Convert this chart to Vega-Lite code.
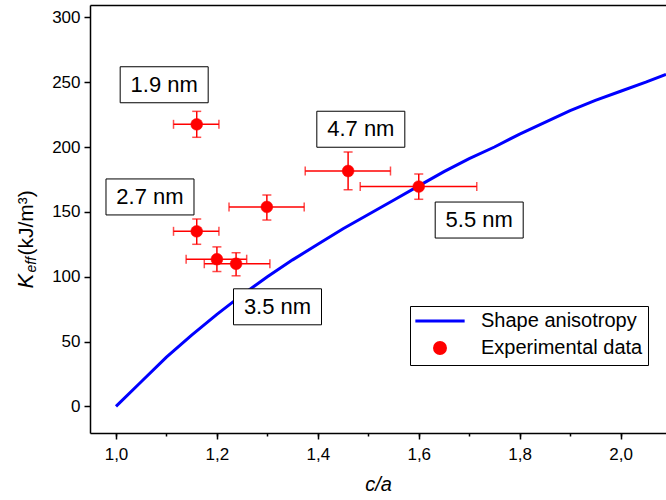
{
  "$schema": "https://vega.github.io/schema/vega-lite/v6.json",
  "width": 576,
  "height": 428,
  "autosize": {"type": "none"},
  "padding": {"left": 90, "top": 5, "right": 0, "bottom": 67},
  "background": "white",
  "config": {
    "view": {"stroke": null},
    "font": "Liberation Sans",
    "axis": {
      "grid": false,
      "domainColor": "black",
      "domainWidth": 1.5,
      "tickColor": "black",
      "tickWidth": 1.5,
      "labelColor": "black",
      "labelFont": "Liberation Sans",
      "labelFontSize": 17,
      "titleColor": "black",
      "titleFont": "Liberation Sans",
      "titleFontWeight": "normal",
      "labelOverlap": false,
      "labelFlush": false
    }
  },
  "datasets": {
    "curve": [
      {"c": 1.0, "K": 0},
      {"c": 1.05, "K": 19},
      {"c": 1.1, "K": 38},
      {"c": 1.15, "K": 55},
      {"c": 1.2, "K": 71},
      {"c": 1.25, "K": 86},
      {"c": 1.3, "K": 100},
      {"c": 1.35, "K": 113},
      {"c": 1.4, "K": 125},
      {"c": 1.45, "K": 137},
      {"c": 1.5, "K": 148},
      {"c": 1.55, "K": 159},
      {"c": 1.6, "K": 170},
      {"c": 1.65, "K": 181},
      {"c": 1.7, "K": 191},
      {"c": 1.75, "K": 200},
      {"c": 1.8, "K": 210},
      {"c": 1.85, "K": 219},
      {"c": 1.9, "K": 228},
      {"c": 1.95, "K": 236},
      {"c": 2.0, "K": 243},
      {"c": 2.05, "K": 250},
      {"c": 2.09, "K": 256}
    ],
    "points": [
      {"series": "Experimental data", "c": 1.16, "K": 217.5, "clo": 1.114, "chi": 1.204, "Klo": 207.5, "Khi": 227.5},
      {"series": "Experimental data", "c": 1.16, "K": 135, "clo": 1.114, "chi": 1.204, "Klo": 125, "Khi": 144.5},
      {"series": "Experimental data", "c": 1.2, "K": 113.5, "clo": 1.139, "chi": 1.259, "Klo": 104, "Khi": 123},
      {"series": "Experimental data", "c": 1.238, "K": 110, "clo": 1.175, "chi": 1.305, "Klo": 100.7, "Khi": 118.5},
      {"series": "Experimental data", "c": 1.299, "K": 153.8, "clo": 1.224, "chi": 1.373, "Klo": 143.7, "Khi": 163},
      {"series": "Experimental data", "c": 1.46, "K": 181.5, "clo": 1.375, "chi": 1.544, "Klo": 167, "Khi": 196.2},
      {"series": "Experimental data", "c": 1.6, "K": 169.5, "clo": 1.484, "chi": 1.715, "Klo": 159.7, "Khi": 179.2}
    ],
    "labels": [
      {"label": "1.9 nm", "x": 1.0955, "y": 248},
      {"label": "2.7 nm", "x": 1.0674, "y": 161.5},
      {"label": "4.7 nm", "x": 1.4852, "y": 213.7},
      {"label": "5.5 nm", "x": 1.7198, "y": 143.7},
      {"label": "3.5 nm", "x": 1.3201, "y": 76.8}
    ]
  },
  "resolve": {"axis": {"x": "independent", "y": "independent"}},
  "layer": [
    {
      "data": {"name": "curve"},
      "mark": {"type": "line", "color": "#0000ff", "strokeWidth": 3},
      "encoding": {
        "x": {
          "field": "c", "type": "quantitative",
          "scale": {"domain": [0.9485, 2.09], "nice": false, "zero": false},
          "axis": {
            "orient": "bottom",
            "values": [1, 1.2, 1.4, 1.6, 1.8, 2],
            "labelExpr": "replace(format(datum.value,'.1f'),'.',',')",
            "ticks": false,
            "labelPadding": 13,
            "title": "c/a",
            "titleFontStyle": "italic",
            "titleFontSize": 20,
            "titlePadding": 12
          }
        },
        "y": {
          "field": "K", "type": "quantitative",
          "scale": {"domain": [-20.5, 309.5], "nice": false, "zero": false},
          "axis": {
            "orient": "left",
            "values": [0, 50, 100, 150, 200, 250, 300],
            "labelExpr": "format(datum.value,'d')",
            "ticks": false,
            "labelPadding": 10,
            "title": "K",
            "titleFontStyle": "italic",
            "titleFontSize": 22,
            "titleAngle": 270,
            "titleX": -58,
            "titleY": 283,
            "titleAlign": "left",
            "titleBaseline": "alphabetic"
          }
        }
      }
    },
    {
      "data": {"name": "labels"},
      "mark": {"type": "rect", "width": 88, "height": 36, "fill": "white", "stroke": "black", "strokeWidth": 1},
      "encoding": {
        "x": {
          "field": "x", "type": "quantitative",
          "scale": {"domain": [0.9485, 2.09], "nice": false, "zero": false},
          "axis": {
            "orient": "top",
            "labels": false,
            "ticks": false,
            "title": null
          }
        },
        "y": {
          "field": "y", "type": "quantitative",
          "scale": {"domain": [-20.5, 309.5], "nice": false, "zero": false},
          "axis": {
            "orient": "left",
            "tickCount": 7,
            "labels": false, "domain": false, "ticks": true,
            "tickColor": "black", "tickWidth": 1.5, "tickOpacity": 1,
            "tickSize": 6,
            "title": "eff",
            "titleFontStyle": "italic",
            "titleFontSize": 14,
            "titleAngle": 270,
            "titleX": -55,
            "titleY": 267,
            "titleAlign": "left",
            "titleBaseline": "alphabetic"
          }
        }
      }
    },
    {
      "data": {"name": "labels"},
      "mark": {"type": "text", "fontSize": 22, "font": "Liberation Sans", "color": "black", "align": "center", "baseline": "middle"},
      "encoding": {
        "x": {
          "field": "x", "type": "quantitative",
          "scale": {"domain": [0.9485, 2.09], "nice": false, "zero": false},
          "axis": {
            "orient": "bottom",
            "tickCount": 6,
            "labels": false, "domain": false, "ticks": true,
            "tickColor": "black", "tickWidth": 1.5, "tickOpacity": 1,
            "tickSize": 6,
            "title": null
          }
        },
        "y": {
          "field": "y", "type": "quantitative",
          "scale": {"domain": [-20.5, 309.5], "nice": false, "zero": false},
          "axis": {
            "orient": "left",
            "labels": false, "domain": false, "ticks": false,
            "title": "(kJ/m³)",
            "titleFontStyle": "normal",
            "titleFontSize": 21,
            "titleAngle": 270,
            "titleX": -58,
            "titleY": 250,
            "titleAlign": "left",
            "titleBaseline": "alphabetic"
          }
        },
        "text": {"field": "label"}
      }
    },
    {
      "data": {"name": "points"},
      "mark": {"type": "errorbar", "color": "#ff0000", "thickness": 1.5, "ticks": true, "size": 9},
      "encoding": {
        "x": {
          "field": "clo", "type": "quantitative",
          "scale": {"domain": [0.9485, 2.09], "nice": false, "zero": false},
          "axis": {
            "orient": "bottom",
            "tickCount": 12,
            "labels": false, "domain": false, "ticks": true,
            "tickColor": "black", "tickWidth": 1.5, "tickOpacity": 1,
            "tickSize": 3,
            "title": null
          }
        },
        "x2": {"field": "chi"},
        "y": {"field": "K", "type": "quantitative", "scale": {"domain": [-20.5, 309.5], "nice": false, "zero": false}, "axis": null}
      }
    },
    {
      "data": {"name": "points"},
      "mark": {"type": "errorbar", "color": "#ff0000", "thickness": 1.5, "ticks": true, "size": 9},
      "encoding": {
        "x": {"field": "c", "type": "quantitative", "scale": {"domain": [0.9485, 2.09], "nice": false, "zero": false}, "axis": null},
        "y": {"field": "Klo", "type": "quantitative", "scale": {"domain": [-20.5, 309.5], "nice": false, "zero": false}, "axis": null},
        "y2": {"field": "Khi"}
      }
    },
    {
      "data": {"name": "points"},
      "mark": {"type": "point", "filled": true, "size": 140, "opacity": 1, "strokeWidth": 0.5},
      "encoding": {
        "x": {"field": "c", "type": "quantitative", "scale": {"domain": [0.9485, 2.09], "nice": false, "zero": false}, "axis": null},
        "y": {"field": "K", "type": "quantitative", "scale": {"domain": [-20.5, 309.5], "nice": false, "zero": false}, "axis": null},
        "color": {
          "field": "series", "type": "nominal",
          "scale": {"domain": ["Shape anisotropy", "Experimental data"], "range": ["#0000ff", "#ff0000"]},
          "legend": {
            "title": null, "orient": "none", "legendX": 320, "legendY": 301,
            "strokeColor": "black", "fillColor": "white", "padding": 5,
            "labelFont": "Liberation Sans", "labelFontSize": 20, "labelColor": "black", "labelLimit": 400,
            "rowPadding": 5, "symbolSize": 120, "labelOffset": 31, "symbolOffset": 15, "symbolStrokeWidth": 3
          }
        },
        "stroke": {
          "field": "series", "type": "nominal",
          "scale": {"domain": ["Shape anisotropy", "Experimental data"], "range": ["#0000ff", "#ff0000"]},
          "legend": {
            "title": null, "orient": "none", "legendX": 320, "legendY": 301,
            "strokeColor": "black", "fillColor": "white", "padding": 5,
            "labelFont": "Liberation Sans", "labelFontSize": 20, "labelColor": "black", "labelLimit": 400,
            "rowPadding": 5, "symbolSize": 120, "labelOffset": 31, "symbolOffset": 15, "symbolStrokeWidth": 3
          }
        },
        "shape": {
          "field": "series", "type": "nominal",
          "scale": {"domain": ["Shape anisotropy", "Experimental data"], "range": ["M-4.5,0H4.5", "circle"]},
          "legend": {
            "title": null, "orient": "none", "legendX": 320, "legendY": 301,
            "strokeColor": "black", "fillColor": "white", "padding": 5,
            "labelFont": "Liberation Sans", "labelFontSize": 20, "labelColor": "black", "labelLimit": 400,
            "rowPadding": 5, "symbolSize": 120, "labelOffset": 31, "symbolOffset": 15, "symbolStrokeWidth": 3
          }
        }
      }
    }
  ]
}
